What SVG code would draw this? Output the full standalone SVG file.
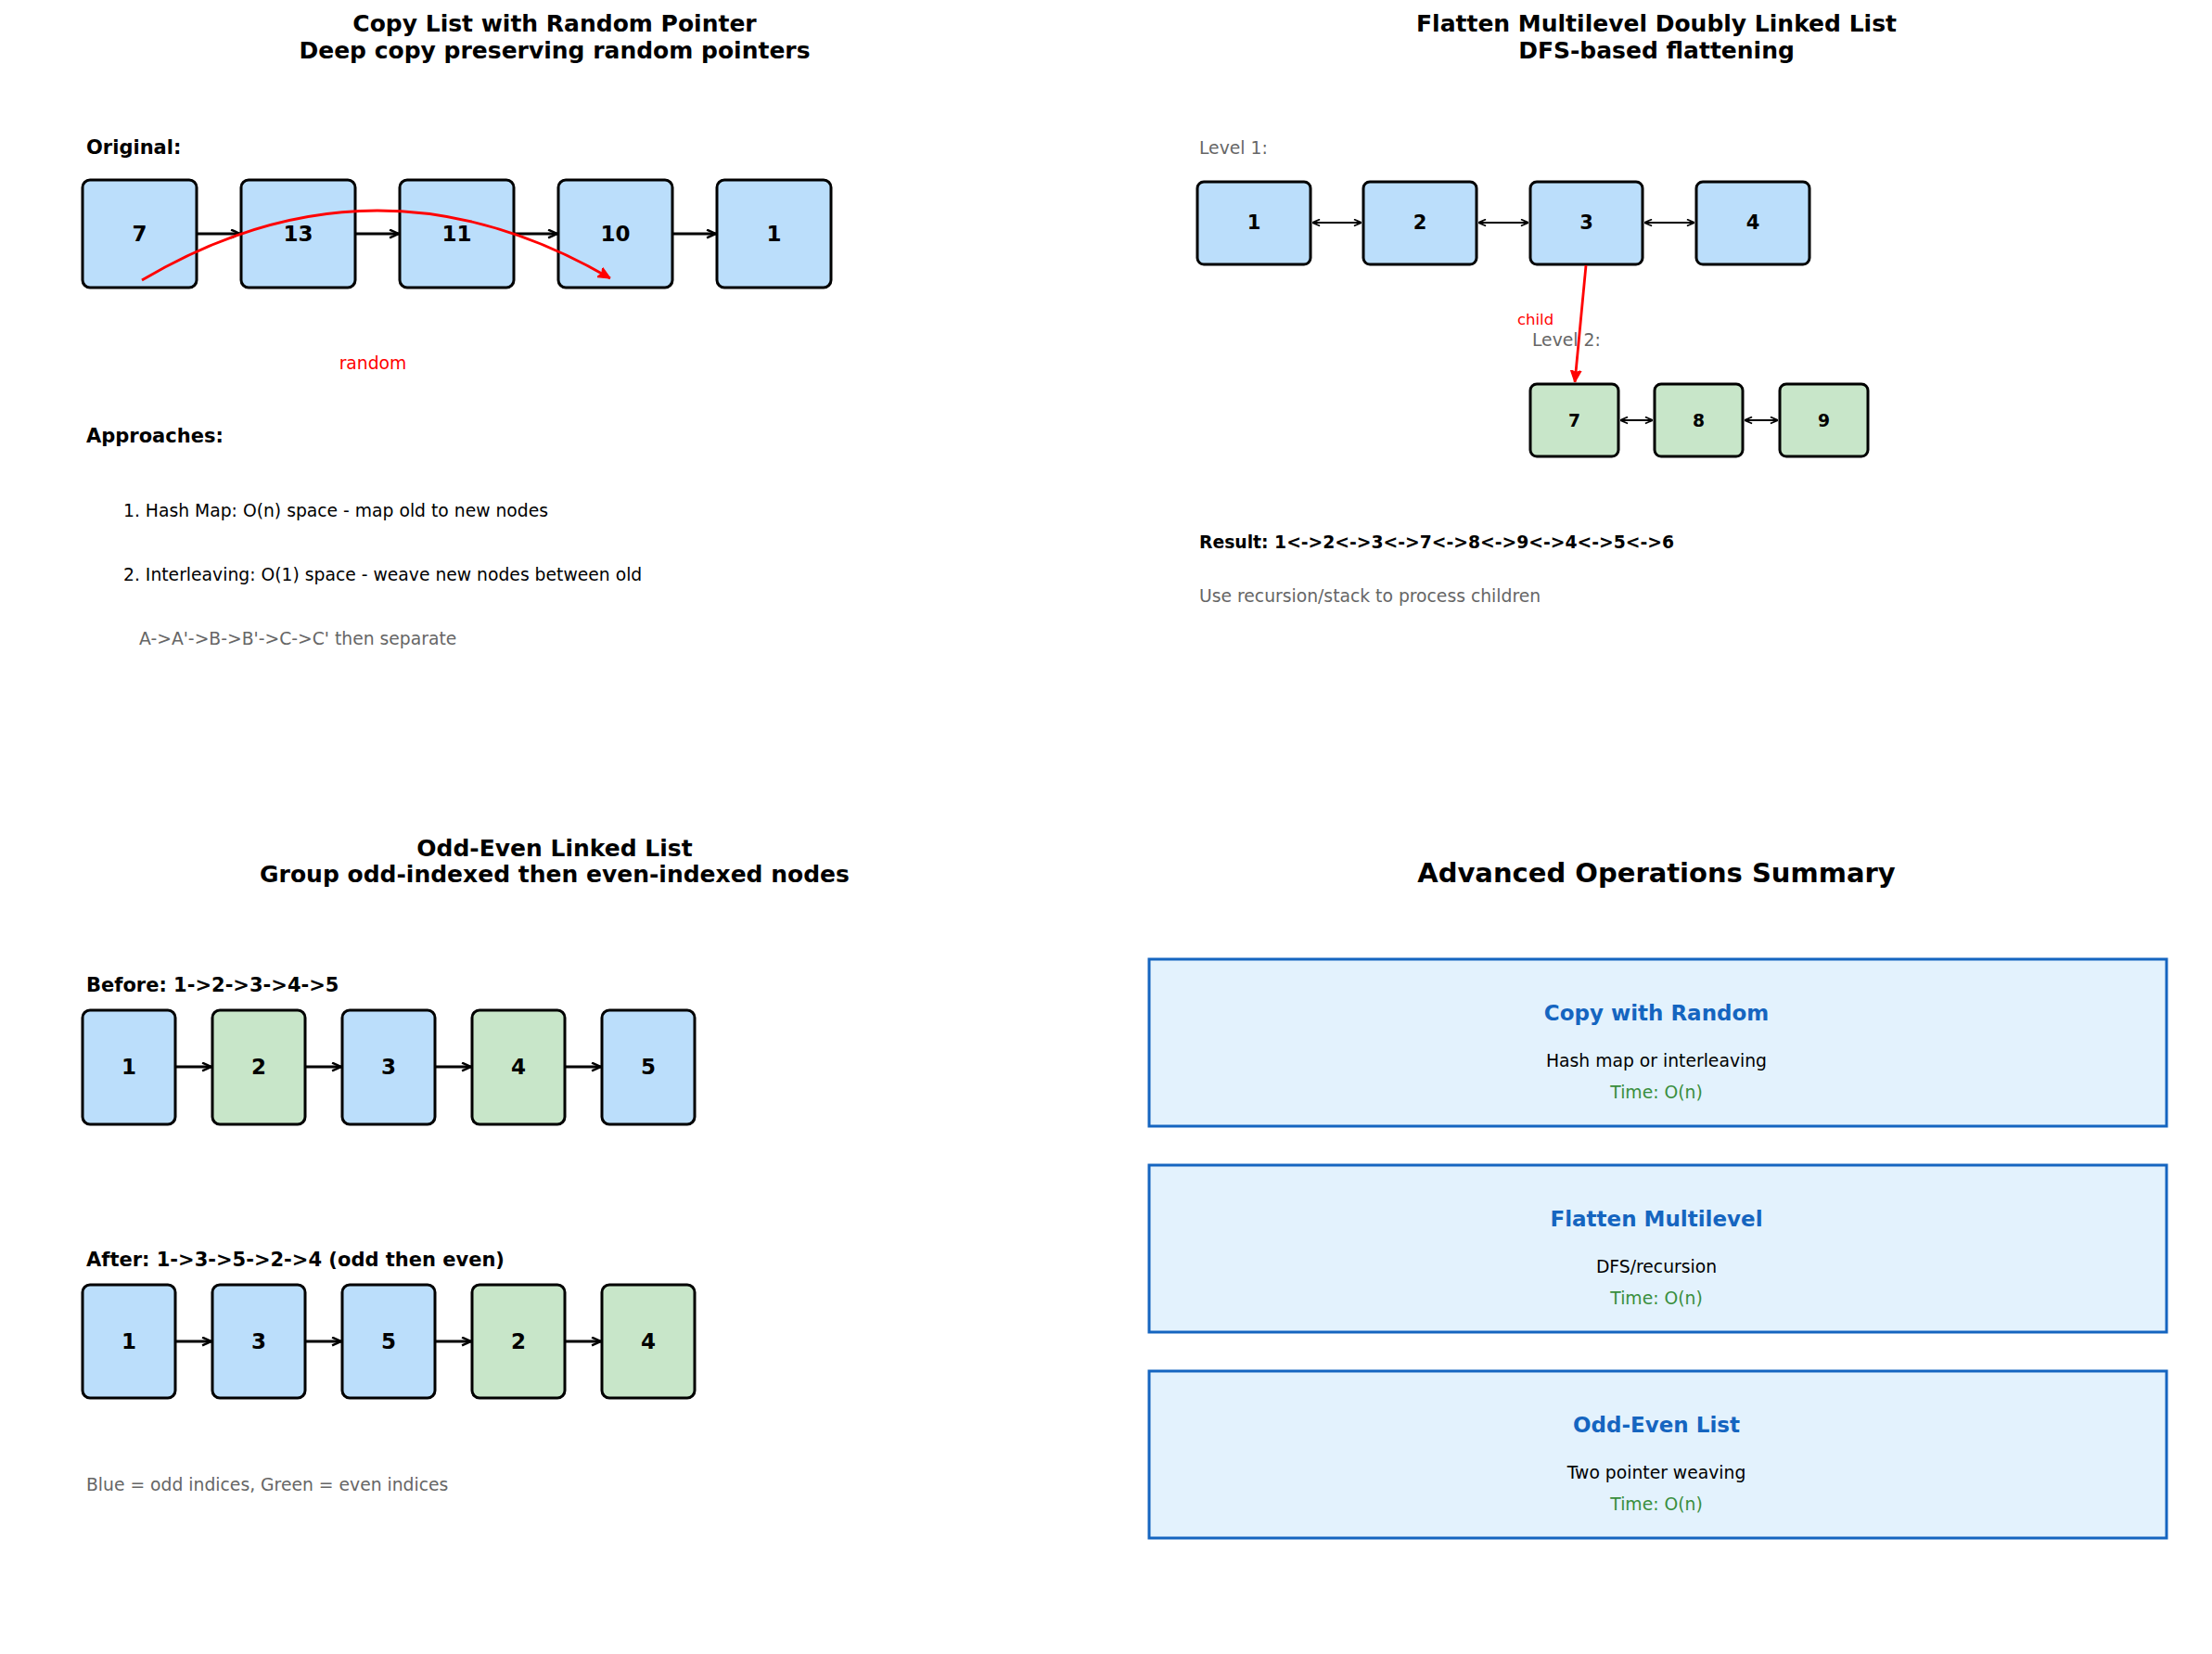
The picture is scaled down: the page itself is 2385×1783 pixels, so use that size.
<svg xmlns="http://www.w3.org/2000/svg" width="2385" height="1783" viewBox="0 0 2385 1783">
<style>
text{font-family:"DejaVu Sans","Liberation Sans",sans-serif;}
.title{font-size:25px;font-weight:bold;text-anchor:middle;fill:#000}
.big{font-size:29px;font-weight:bold;text-anchor:middle;fill:#000}
.lbl{font-size:21px;font-weight:bold;fill:#000}
.txt{font-size:18.75px;fill:#000}
.gray{font-size:18.75px;fill:#666}
.nb{fill:#BBDEFB;stroke:#000;stroke-width:3}
.ng{fill:#C8E6C9;stroke:#000;stroke-width:3}
.nl{font-size:23px;font-weight:bold;text-anchor:middle;dominant-baseline:central}
.nl2{font-size:21px;font-weight:bold;text-anchor:middle;dominant-baseline:central}
.nl3{font-size:18.75px;font-weight:bold;text-anchor:middle;dominant-baseline:central}
.sb{fill:#E3F2FD;stroke:#1565C0;stroke-width:3}
.st{font-size:23px;font-weight:bold;text-anchor:middle;fill:#1565C0}
.sd{font-size:18.75px;text-anchor:middle;fill:#000}
.sg{font-size:18.75px;text-anchor:middle;fill:#388E3C}
.a{stroke:#000;stroke-width:3;fill:none}
.d{stroke:#000;stroke-width:1.8;fill:none}
.r{stroke:#FF0000;stroke-width:2.8;fill:none}
</style>
<defs>
<marker id="ah" viewBox="0 0 10 10" refX="10" refY="5" markerWidth="11" markerHeight="11" markerUnits="userSpaceOnUse" orient="auto">
<path d="M1,1 L10,5 L1,9" fill="none" stroke="#000" stroke-width="2.2"/>
</marker>
<marker id="ahs" viewBox="0 0 10 10" refX="10" refY="5" markerWidth="9" markerHeight="9" markerUnits="userSpaceOnUse" orient="auto-start-reverse">
<path d="M1,1 L10,5 L1,9" fill="none" stroke="#000" stroke-width="1.8"/>
</marker>
<marker id="ahr" viewBox="0 0 10 10" refX="10" refY="5" markerWidth="13" markerHeight="13" markerUnits="userSpaceOnUse" orient="auto">
<path d="M0,0.5 L10,5 L0,9.5 L2,5 Z" fill="#FF0000" stroke="#FF0000" stroke-width="1"/>
</marker>
</defs>
<rect x="0" y="0" width="2385" height="1783" fill="#fff"/>

<!-- Panel 1 -->
<text class="title" x="598" y="34">Copy List with Random Pointer</text>
<text class="title" x="598" y="63">Deep copy preserving random pointers</text>
<text class="lbl" x="93" y="166">Original:</text>
<g id="copy-n7"><rect class="nb" x="89" y="194" width="123" height="116" rx="8"/><text class="nl" x="150.5" y="252">7</text></g>
<g id="copy-n13"><rect class="nb" x="260" y="194" width="123" height="116" rx="8"/><text class="nl" x="321.5" y="252">13</text></g>
<g id="copy-n11"><rect class="nb" x="431" y="194" width="123" height="116" rx="8"/><text class="nl" x="492.5" y="252">11</text></g>
<g id="copy-n10"><rect class="nb" x="602" y="194" width="123" height="116" rx="8"/><text class="nl" x="663.5" y="252">10</text></g>
<g id="copy-n1"><rect class="nb" x="773" y="194" width="123" height="116" rx="8"/><text class="nl" x="834.5" y="252">1</text></g>
<text x="402" y="398" style="font-size:18.75px;fill:#FF0000;text-anchor:middle">random</text>
<text class="lbl" x="93" y="477">Approaches:</text>
<text class="txt" x="133" y="557">1. Hash Map: O(n) space - map old to new nodes</text>
<text class="txt" x="133" y="626">2. Interleaving: O(1) space - weave new nodes between old</text>
<text class="gray" x="150" y="695">A-&gt;A'-&gt;B-&gt;B'-&gt;C-&gt;C' then separate</text>

<!-- Panel 2 -->
<text class="title" x="1786" y="34">Flatten Multilevel Doubly Linked List</text>
<text class="title" x="1786" y="63">DFS-based flattening</text>
<text class="gray" x="1293" y="166">Level 1:</text>
<g id="flat-n1"><rect class="nb" x="1291" y="196" width="122" height="89" rx="7"/><text class="nl2" x="1352" y="240">1</text></g>
<g id="flat-n2"><rect class="nb" x="1470" y="196" width="122" height="89" rx="7"/><text class="nl2" x="1531" y="240">2</text></g>
<g id="flat-n3"><rect class="nb" x="1650" y="196" width="121" height="89" rx="7"/><text class="nl2" x="1710.5" y="240">3</text></g>
<g id="flat-n4"><rect class="nb" x="1829" y="196" width="122" height="89" rx="7"/><text class="nl2" x="1890" y="240">4</text></g>
<text x="1636" y="350" style="font-size:16.5px;fill:#FF0000">child</text>
<text class="gray" x="1652" y="373">Level 2:</text>
<g id="flat-n7"><rect class="ng" x="1650" y="414" width="95" height="78" rx="7"/><text class="nl3" x="1697.5" y="453">7</text></g>
<g id="flat-n8"><rect class="ng" x="1784" y="414" width="95" height="78" rx="7"/><text class="nl3" x="1831.5" y="453">8</text></g>
<g id="flat-n9"><rect class="ng" x="1919" y="414" width="95" height="78" rx="7"/><text class="nl3" x="1966.5" y="453">9</text></g>
<text x="1293" y="591" style="font-size:18.75px;font-weight:bold">Result: 1&lt;-&gt;2&lt;-&gt;3&lt;-&gt;7&lt;-&gt;8&lt;-&gt;9&lt;-&gt;4&lt;-&gt;5&lt;-&gt;6</text>
<text class="gray" x="1293" y="649">Use recursion/stack to process children</text>

<!-- Panel 3 -->
<text class="title" x="598" y="923">Odd-Even Linked List</text>
<text class="title" x="598" y="951">Group odd-indexed then even-indexed nodes</text>
<text class="lbl" x="93" y="1069">Before: 1-&gt;2-&gt;3-&gt;4-&gt;5</text>
<g id="before-n1"><rect class="nb" x="89" y="1089" width="100" height="123" rx="8"/><text class="nl" x="139" y="1150">1</text></g>
<g id="before-n2"><rect class="ng" x="229" y="1089" width="100" height="123" rx="8"/><text class="nl" x="279" y="1150">2</text></g>
<g id="before-n3"><rect class="nb" x="369" y="1089" width="100" height="123" rx="8"/><text class="nl" x="419" y="1150">3</text></g>
<g id="before-n4"><rect class="ng" x="509" y="1089" width="100" height="123" rx="8"/><text class="nl" x="559" y="1150">4</text></g>
<g id="before-n5"><rect class="nb" x="649" y="1089" width="100" height="123" rx="8"/><text class="nl" x="699" y="1150">5</text></g>
<text class="lbl" x="93" y="1365">After: 1-&gt;3-&gt;5-&gt;2-&gt;4 (odd then even)</text>
<g id="after-n1"><rect class="nb" x="89" y="1385" width="100" height="122" rx="8"/><text class="nl" x="139" y="1446">1</text></g>
<g id="after-n3"><rect class="nb" x="229" y="1385" width="100" height="122" rx="8"/><text class="nl" x="279" y="1446">3</text></g>
<g id="after-n5"><rect class="nb" x="369" y="1385" width="100" height="122" rx="8"/><text class="nl" x="419" y="1446">5</text></g>
<g id="after-n2"><rect class="ng" x="509" y="1385" width="100" height="122" rx="8"/><text class="nl" x="559" y="1446">2</text></g>
<g id="after-n4"><rect class="ng" x="649" y="1385" width="100" height="122" rx="8"/><text class="nl" x="699" y="1446">4</text></g>
<text class="gray" x="93" y="1607">Blue = odd indices, Green = even indices</text>

<!-- Panel 4 -->
<text class="big" x="1786" y="951">Advanced Operations Summary</text>
<g id="sum-copy"><rect class="sb" x="1239" y="1034" width="1097" height="180"/>
<text class="st" x="1786" y="1100">Copy with Random</text>
<text class="sd" x="1786" y="1150">Hash map or interleaving</text>
<text class="sg" x="1786" y="1184">Time: O(n)</text></g>
<g id="sum-flatten"><rect class="sb" x="1239" y="1256" width="1097" height="180"/>
<text class="st" x="1786" y="1322">Flatten Multilevel</text>
<text class="sd" x="1786" y="1372">DFS/recursion</text>
<text class="sg" x="1786" y="1406">Time: O(n)</text></g>
<g id="sum-oddeven"><rect class="sb" x="1239" y="1478" width="1097" height="180"/>
<text class="st" x="1786" y="1544">Odd-Even List</text>
<text class="sd" x="1786" y="1594">Two pointer weaving</text>
<text class="sg" x="1786" y="1628">Time: O(n)</text></g>

<!-- Connectors -->
<g id="connectors">
<line class="a" x1="213" y1="252" x2="259" y2="252" marker-end="url(#ah)"/>
<line class="a" x1="384" y1="252" x2="430" y2="252" marker-end="url(#ah)"/>
<line class="a" x1="555" y1="252" x2="601" y2="252" marker-end="url(#ah)"/>
<line class="a" x1="726" y1="252" x2="772" y2="252" marker-end="url(#ah)"/>
<path class="r" d="M153,302 Q405,153 658,300" marker-end="url(#ahr)"/>

<line class="d" x1="1415" y1="240" x2="1468" y2="240" marker-start="url(#ahs)" marker-end="url(#ahs)"/>
<line class="d" x1="1594" y1="240" x2="1648" y2="240" marker-start="url(#ahs)" marker-end="url(#ahs)"/>
<line class="d" x1="1773" y1="240" x2="1827" y2="240" marker-start="url(#ahs)" marker-end="url(#ahs)"/>
<line class="r" x1="1710" y1="286" x2="1698" y2="412" marker-end="url(#ahr)"/>
<line class="d" x1="1747" y1="453" x2="1782" y2="453" marker-start="url(#ahs)" marker-end="url(#ahs)"/>
<line class="d" x1="1881" y1="453" x2="1917" y2="453" marker-start="url(#ahs)" marker-end="url(#ahs)"/>

<line class="a" x1="190" y1="1150" x2="228" y2="1150" marker-end="url(#ah)"/>
<line class="a" x1="330" y1="1150" x2="368" y2="1150" marker-end="url(#ah)"/>
<line class="a" x1="470" y1="1150" x2="508" y2="1150" marker-end="url(#ah)"/>
<line class="a" x1="610" y1="1150" x2="648" y2="1150" marker-end="url(#ah)"/>
<line class="a" x1="190" y1="1446" x2="228" y2="1446" marker-end="url(#ah)"/>
<line class="a" x1="330" y1="1446" x2="368" y2="1446" marker-end="url(#ah)"/>
<line class="a" x1="470" y1="1446" x2="508" y2="1446" marker-end="url(#ah)"/>
<line class="a" x1="610" y1="1446" x2="648" y2="1446" marker-end="url(#ah)"/>
</g>
</svg>
